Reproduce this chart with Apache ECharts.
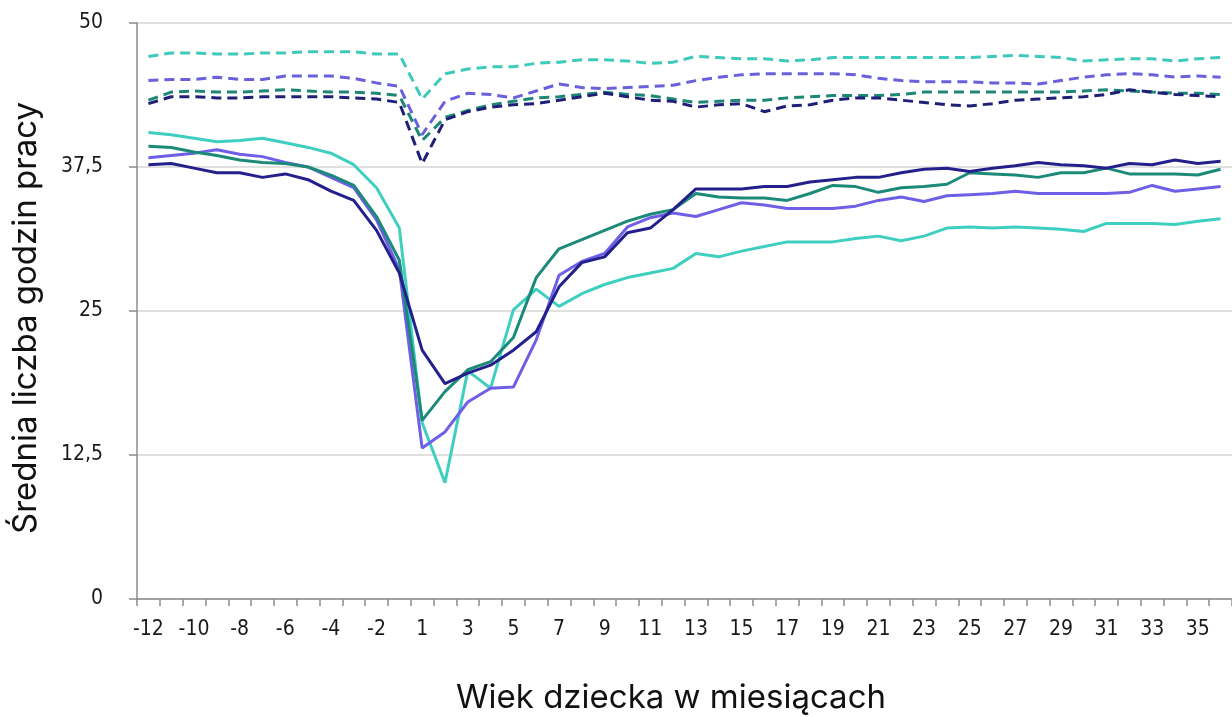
<!DOCTYPE html>
<html>
<head>
<meta charset="utf-8">
<script src="https://cdn.jsdelivr.net/npm/echarts@6/dist/echarts.min.js"></script>
<style>
html,body{margin:0;padding:0;background:#fff;}
#chart{width:1232px;height:717px;}
</style>
</head>
<body>
<div id="chart"></div>
<script>
// Months relative to birth (no month 0)
const months = [-12,-11,-10,-9,-8,-7,-6,-5,-4,-3,-2,-1,1,2,3,4,5,6,7,8,9,10,11,12,13,14,15,16,17,18,19,20,21,22,23,24,25,26,27,28,29,30,31,32,33,34,35,36];
const yTicks = [0, 12.5, 25, 37.5, 50];

// Solid series
const turquoiseSolid = [40.5,40.3,40.0,39.7,39.8,40.0,39.6,39.2,38.7,37.7,35.7,32.2,15.3,10.1,19.8,18.3,25.1,26.9,25.4,26.5,27.3,27.9,28.3,28.7,30.0,29.7,30.2,30.6,31.0,31.0,31.0,31.3,31.5,31.1,31.5,32.2,32.3,32.2,32.3,32.2,32.1,31.9,32.6,32.6,32.6,32.5,32.8,33.0];
const tealSolid = [39.3,39.2,38.8,38.5,38.1,37.9,37.8,37.5,36.8,35.9,33.2,29.4,15.5,18.0,19.9,20.6,22.7,27.9,30.4,31.2,32.0,32.8,33.4,33.8,35.2,34.9,34.8,34.8,34.6,35.2,35.9,35.8,35.3,35.7,35.8,36.0,37.0,36.9,36.8,36.6,37.0,37.0,37.4,36.9,36.9,36.9,36.8,37.3];
const purpleSolid = [38.3,38.5,38.7,39.0,38.6,38.4,37.9,37.5,36.6,35.7,32.9,28.6,13.1,14.5,17.1,18.3,18.4,22.5,28.1,29.3,30.0,32.3,33.1,33.5,33.2,33.8,34.4,34.2,33.9,33.9,33.9,34.1,34.6,34.9,34.5,35.0,35.1,35.2,35.4,35.2,35.2,35.2,35.2,35.3,35.9,35.4,35.6,35.8];
const navySolid = [37.7,37.8,37.4,37.0,37.0,36.6,36.9,36.4,35.4,34.6,32.0,28.3,21.6,18.7,19.6,20.3,21.6,23.2,27.1,29.2,29.7,31.8,32.2,33.8,35.6,35.6,35.6,35.8,35.8,36.2,36.4,36.6,36.6,37.0,37.3,37.4,37.1,37.4,37.6,37.9,37.7,37.6,37.4,37.8,37.7,38.1,37.8,38.0];

// Dashed series
const turquoiseDashed = [47.1,47.4,47.4,47.3,47.3,47.4,47.4,47.5,47.5,47.5,47.3,47.3,43.4,45.6,46.0,46.2,46.2,46.5,46.6,46.8,46.8,46.7,46.5,46.6,47.1,47.0,46.9,46.9,46.7,46.8,47.0,47.0,47.0,47.0,47.0,47.0,47.0,47.1,47.2,47.1,47.0,46.7,46.8,46.9,46.9,46.7,46.9,47.0];
const purpleDashed = [45.0,45.1,45.1,45.3,45.1,45.1,45.4,45.4,45.4,45.2,44.8,44.5,40.3,43.2,43.9,43.8,43.5,44.1,44.7,44.4,44.3,44.4,44.5,44.6,45.0,45.3,45.5,45.6,45.6,45.6,45.6,45.5,45.2,45.0,44.9,44.9,44.9,44.8,44.8,44.7,45.0,45.3,45.5,45.6,45.5,45.3,45.4,45.3];
const tealDashed = [43.3,44.0,44.1,44.0,44.0,44.1,44.2,44.1,44.0,44.0,43.9,43.7,39.8,41.8,42.4,42.9,43.2,43.5,43.6,43.8,44.0,43.8,43.7,43.4,43.1,43.2,43.3,43.3,43.5,43.6,43.7,43.7,43.7,43.8,44.0,44.0,44.0,44.0,44.0,44.0,44.0,44.1,44.2,44.1,44.0,43.9,43.9,43.8];
const navyDashed = [43.0,43.6,43.6,43.5,43.5,43.6,43.6,43.6,43.6,43.5,43.4,43.1,37.8,41.6,42.3,42.7,42.9,43.0,43.3,43.6,43.9,43.6,43.3,43.2,42.7,42.9,43.0,42.3,42.8,42.9,43.3,43.5,43.5,43.3,43.1,42.9,42.8,43.0,43.3,43.4,43.5,43.6,43.8,44.2,44.0,43.8,43.7,43.6];

const xTitle = 'Wiek dziecka w miesiącach';
const yTitle = 'Średnia liczba godzin pracy';

const C = {
  turq: '#3fcfc0', teal: '#1c8a78', purple: '#6e5fe6', navy: '#23208c',
  turqD: '#3dc9bc', purpleD: '#6b60dc', tealD: '#1d8776', navyD: '#1f1f78'
};

function line(name, data, color, dashed, z) {
  return {
    name, type: 'line', data, symbol: 'none', smooth: false, z: z,
    lineStyle: { color, width: 3, type: dashed ? [10, 6] : 'solid', cap: 'butt' },
    emphasis: { disabled: true }
  };
}

const chart = echarts.init(document.getElementById('chart'), null, { renderer: 'canvas' });
const labelFont = '"Liberation Sans Narrow", "DejaVu Sans Condensed", "Liberation Sans", sans-serif';
const titleFont = 'Inter, Lato, sans-serif';

chart.setOption({
  animation: false,
  backgroundColor: '#ffffff',
  grid: { left: 137, right: -4, top: 23, bottom: 118, containLabel: false },
  xAxis: {
    type: 'category',
    data: months,
    boundaryGap: true,
    axisLine: { show: true, lineStyle: { color: '#8c8c8c', width: 1.5 } },
    axisTick: { show: true, interval: 0, length: 7, lineStyle: { color: '#8c8c8c', width: 1.5 } },
    axisLabel: { interval: 1, margin: 20, fontSize: 21, color: '#1a1a1a', fontFamily: labelFont },
    splitLine: { show: false }
  },
  yAxis: {
    type: 'value', min: 0, max: 50, interval: 12.5,
    axisLine: { show: true, lineStyle: { color: '#8c8c8c', width: 1.5 } },
    axisTick: { show: true, length: 8, lineStyle: { color: '#8c8c8c', width: 1.5 } },
    axisLabel: {
      margin: 34, fontSize: 21, color: '#1a1a1a', fontFamily: labelFont,
      formatter: v => yTicks.includes(v) ? String(v).replace('.', ',') : ''
    },
    splitLine: { show: true, lineStyle: { color: '#d6d6d6', width: 1.5 } }
  },
  series: [
    line('turqD', turquoiseDashed, C.turqD, true, 2),
    line('purpleD', purpleDashed, C.purpleD, true, 3),
    line('tealD', tealDashed, C.tealD, true, 4),
    line('navyD', navyDashed, C.navyD, true, 5),
    line('turq', turquoiseSolid, C.turq, false, 6),
    line('purple', purpleSolid, C.purple, false, 7),
    line('teal', tealSolid, C.teal, false, 8),
    line('navy', navySolid, C.navy, false, 9)
  ],
  graphic: [
    { type: 'text', x: 671, y: 698, z: 100,
      style: { text: xTitle, align: 'center', verticalAlign: 'middle', fontSize: 33, fontFamily: titleFont, fill: '#111' } },
    { type: 'text', x: 26, y: 318, rotation: Math.PI / 2, z: 100,
      style: { text: yTitle, align: 'center', verticalAlign: 'middle', fontSize: 33, fontFamily: titleFont, fill: '#111' } }
  ]
});
</script>
</body>
</html>
